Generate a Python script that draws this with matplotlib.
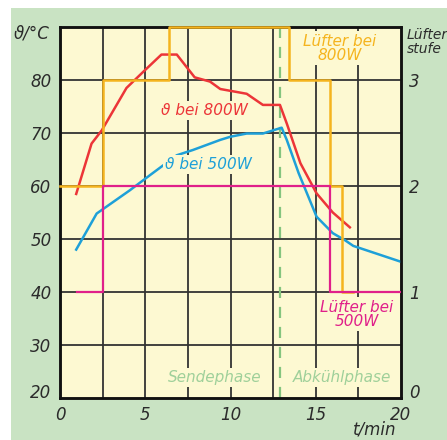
import matplotlib.pyplot as plt
from matplotlib.patches import Rectangle

plt.rcParams['font.family'] = ['Liberation Sans Narrow', 'DejaVu Sans']
plt.rcParams['font.style'] = 'italic'

# temperature curves (deg C over minutes)
t_800 = [0.95, 1.85, 2.45, 3.9, 4.9, 5.95, 6.85, 7.9, 8.8, 9.4, 10.95, 11.9, 12.9, 13.3, 14.1, 15.05, 16.0, 17.0]
temp_800 = [58.5, 68.0, 70.5, 78.5, 81.6, 84.8, 84.8, 80.5, 79.7, 78.3, 77.4, 75.3, 75.3, 71.8, 64.3, 58.6, 55.0, 52.2]

t_500 = [0.95, 2.15, 4.1, 5.3, 6.85, 7.8, 9.4, 10.0, 10.95, 11.9, 13.0, 13.3, 14.0, 15.05, 16.0, 16.7, 17.2, 20.0]
temp_500 = [48.0, 54.8, 59.2, 62.1, 65.8, 66.8, 68.7, 69.3, 69.9, 69.9, 71.0, 68.7, 62.4, 54.2, 51.1, 49.8, 48.7, 45.7]

# fan stages (right axis), step curves
fan_800_t = [0.0, 2.5, 2.5, 6.4, 6.4, 13.45, 13.45, 15.85, 15.85, 16.55, 16.55, 17.2]
fan_800 = [2, 2, 3, 3, 3.5, 3.5, 3, 3, 2, 2, 1, 1]
fan_500_t = [1.0, 2.5, 2.5, 15.85, 15.85, 20.0]
fan_500 = [1, 1, 2, 2, 1, 1]

x_ticks = [0, 5, 10, 15, 20]
y_ticks = [20, 30, 40, 50, 60, 70, 80]
fan_ticks = [0, 1, 2, 3]
phase_end = 12.9

bg = '#fdf9d2'
green_bg = '#c9e3c3'
txt = '#2b2b2b'

fig = plt.figure(figsize=(4.47, 4.40), dpi=100)
fig.patch.set_facecolor('white')
fig.add_artist(Rectangle((11 / 447, 0), 1, 432 / 440, transform=fig.transFigure,
                         facecolor=green_bg, edgecolor='none', zorder=-10))

ax = fig.add_axes([60 / 447, 1 - 398 / 440, 341 / 447, 371 / 440])
ax.set_facecolor(bg)
ax.set_xlim(0, 20)
ax.set_ylim(20, 90)
ax2 = ax.twinx()
ax2.set_ylim(0, 3.5)

for x in [2.5, 5, 7.5, 10, 12.5, 15, 17.5]:
    ax.axvline(x, color='#333333', lw=1.3, zorder=1)
for y in [30, 40, 50, 60, 70, 80]:
    ax.axhline(y, color='#333333', lw=1.3, zorder=1)

ax.axvline(phase_end, color='#84c47e', lw=1.6, ls=(0, (5, 4)), zorder=2)

ax2.plot(fan_800_t, fan_800, color='#f5b41e', lw=1.8, zorder=3, clip_on=False)
ax2.plot(fan_500_t, fan_500, color='#e0208a', lw=1.6, zorder=3)
ax.plot(t_800, temp_800, color='#ec3538', lw=1.8, zorder=4)
ax.plot(t_500, temp_500, color='#1ea0d8', lw=1.8, zorder=4)

box = dict(facecolor=bg, edgecolor='none', pad=1.5)
ax.text(8.5, 74.3, 'ϑ bei 800W', color='#ec3538', fontsize=11, ha='center', va='center',
        bbox=box, zorder=5)
ax.text(8.7, 64.0, 'ϑ bei 500W', color='#1ea0d8', fontsize=11, ha='center', va='center',
        bbox=box, zorder=5)
ax.text(16.4, 86.0, 'Lüfter bei\n800W', color='#f5b41e', fontsize=11, ha='center', va='center',
        linespacing=0.95, bbox=box, zorder=5)
ax.text(17.4, 35.8, 'Lüfter bei\n500W', color='#e0208a', fontsize=11, ha='center', va='center',
        linespacing=0.95, bbox=box, zorder=5)
ax.text(9.1, 23.8, 'Sendephase', color='#9fd09a', fontsize=11, ha='center', va='center',
        bbox=box, zorder=5)
ax.text(16.55, 23.8, 'Abkühlphase', color='#9fd09a', fontsize=11, ha='center', va='center',
        bbox=box, zorder=5)

ax.set_xticks(x_ticks)
ax.set_yticks(y_ticks)
ax2.set_yticks(fan_ticks)
ax.tick_params(length=0, labelsize=12, labelcolor=txt, pad=6)
ax2.tick_params(length=0, labelsize=12, labelcolor=txt, pad=6)
for lab in ax.get_yticklabels():
    if lab.get_text() == '20':
        lab.set_verticalalignment('baseline')
for lab in ax2.get_yticklabels():
    if lab.get_text() == '0':
        lab.set_verticalalignment('baseline')

for a in (ax, ax2):
    for s in a.spines.values():
        s.set_color('#111111')
        s.set_linewidth(1.8)

fig.text(14 / 447, 1 - 33 / 440, 'ϑ/°C', fontsize=12, color=txt, va='center')
fig.text(407 / 447, 1 - 42 / 440, 'Lüfter\nstufe', fontsize=10, color=txt, va='center',
         linespacing=0.95)
fig.text(375 / 447, 1 - 429 / 440, 't/min', fontsize=12, color=txt, ha='center', va='center')

fig.savefig('out.png', dpi=100, facecolor=fig.get_facecolor())
